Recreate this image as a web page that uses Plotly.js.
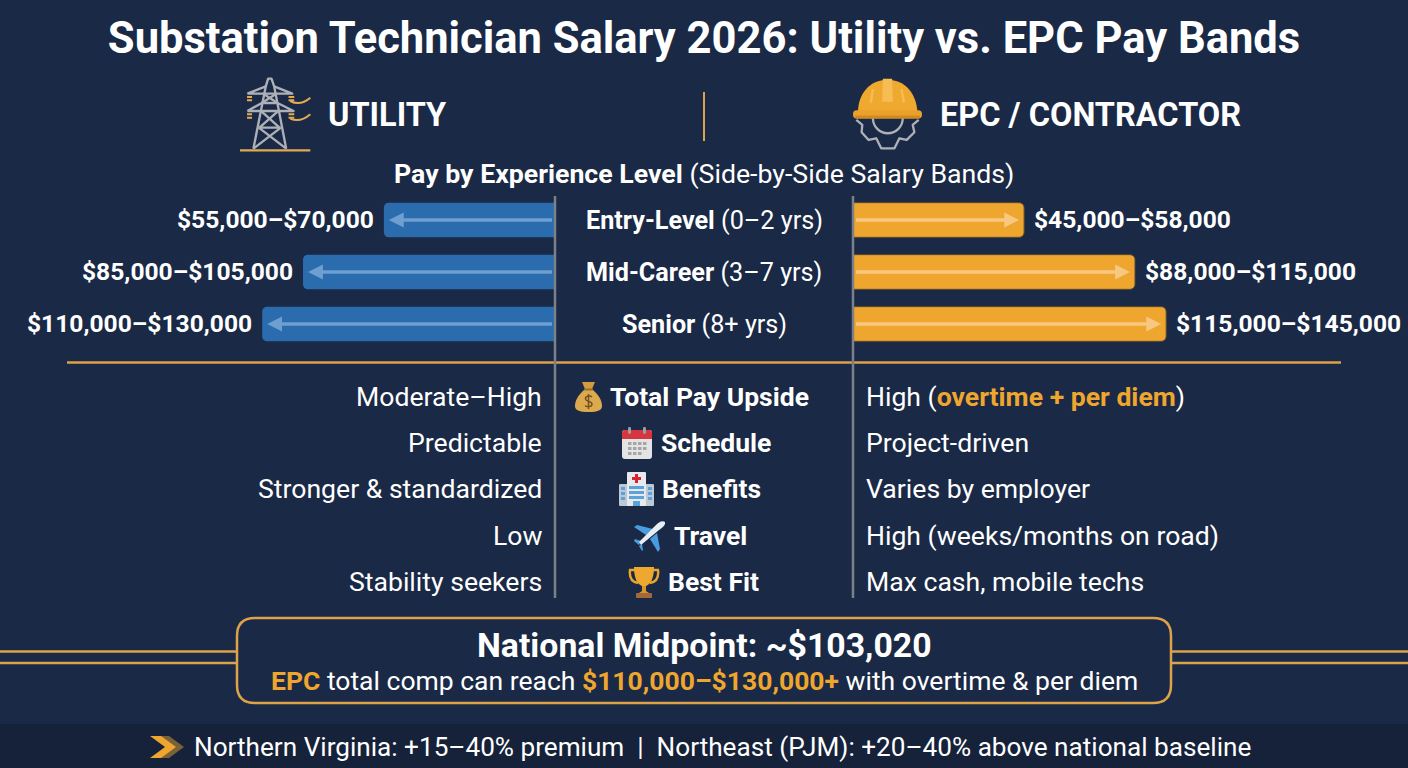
<!DOCTYPE html>
<html>
<head>
<meta charset="utf-8">
<title>Substation Technician Salary 2026</title>
<script src="https://cdn.plot.ly/plotly-3.0.1.min.js"></script>
<style>
  html, body { margin: 0; padding: 0; background: #1a2945; }
  #myPlot { width: 1408px; height: 768px; }
</style>
</head>
<body>
<div id="myPlot"></div>
<script>
// Chart values
var levels = ["Entry-Level", "Mid-Career", "Senior"];
var levelNotes = ["(0–2 yrs)", "(3–7 yrs)", "(8+ yrs)"];

// Drawn bar lengths in $k. The source bars are not to scale with their labels,
// so these follow what is drawn, not the printed upper bound.
var utilityBars = [71.3, 105, 122];
var epcBars = [71.3, 117.5, 130.5];

var utilityLabels = ["$55,000–$70,000", "$85,000–$105,000", "$110,000–$130,000"];
var epcLabels = ["$45,000–$58,000", "$88,000–$115,000", "$115,000–$145,000"];

var topics = ["Total Pay Upside", "Schedule", "Benefits", "Travel", "Best Fit"];
var utilityRows = ["Moderate–High", "Predictable", "Stronger &amp; standardized", "Low", "Stability seekers"];
var epcRows = [
    "High (<b style='color:#eea62f'>overtime + per diem</b>)",
    "Project-driven",
    "Varies by employer",
    "High (weeks/months on road)",
    "Max cash, mobile techs"
];

var W = 1408, H = 768;
var NAVY = "#1a2945", STRIP = "#15223a", GOLD = "#eea62f", LINE = "#dda24a", GRAY = "#7b8189";
var BLUE = "#2a6cad", FONT = "Roboto, sans-serif";

function px(x) { return x / W; }
function py(y) { return 1 - y / H; }

function note(x, y, text, size, anchor) {
    /* Text annotation placed by pixel position on the page */
    return {
        xref: "paper", yref: "paper", x: px(x), y: py(y),
        text: text, showarrow: false, xanchor: anchor || "center", yanchor: "middle",
        font: { family: FONT, size: size, color: "#ffffff" }
    };
}

function line(x0, y0, x1, y1, color, width) {
    return {
        type: "line", xref: "paper", yref: "paper",
        x0: px(x0), y0: py(y0), x1: px(x1), y1: py(y1),
        line: { color: color, width: width }
    };
}

function roundedBox(x0, y0, x1, y1, r) {
    /* Rounded rectangle as a shape path in paper coordinates */
    var X = function (v) { return px(v).toFixed(5); };
    var Y = function (v) { return py(v).toFixed(5); };
    return "M" + X(x0 + r) + "," + Y(y0) + " L" + X(x1 - r) + "," + Y(y0) +
        " Q" + X(x1) + "," + Y(y0) + " " + X(x1) + "," + Y(y0 + r) +
        " L" + X(x1) + "," + Y(y1 - r) +
        " Q" + X(x1) + "," + Y(y1) + " " + X(x1 - r) + "," + Y(y1) +
        " L" + X(x0 + r) + "," + Y(y1) +
        " Q" + X(x0) + "," + Y(y1) + " " + X(x0) + "," + Y(y1 - r) +
        " L" + X(x0) + "," + Y(y0 + r) +
        " Q" + X(x0) + "," + Y(y0) + " " + X(x0 + r) + "," + Y(y0) + " Z";
}

function icon(x0, y0, x1, y1, viewBox, body) {
    /* Inline svg picture stretched over a pixel box */
    var svg = "<svg xmlns='http://www.w3.org/2000/svg' viewBox='" + viewBox + "' preserveAspectRatio='none'>" + body + "</svg>";
    return {
        source: "data:image/svg+xml;utf8," + encodeURIComponent(svg),
        xref: "paper", yref: "paper", x: px(x0), y: py(y0),
        sizex: px(x1 - x0), sizey: (y1 - y0) / H,
        xanchor: "left", yanchor: "top", sizing: "stretch", layer: "above"
    };
}

var pylon =
    "<g fill='none' stroke='#adb1b7' stroke-width='7' stroke-linejoin='round'>" +
    "<path d='M197,48 L204,25 L214,25 L222,48 M197,48 L160,235 M222,48 L258,235'/>" +
    "<path d='M142,70 L276,70 L222,48 M142,70 L197,48 M142,122 L280,122 L232,98 L185,98 L142,122'/>" +
    "<path d='M192,72 L232,98 M226,72 L185,98'/>" +
    "<path d='M185,124 L238,172 M232,124 L178,172 M176,172 L242,172 M176,172 L258,235 M242,172 L160,235'/>" +
    "</g><g fill='none' stroke='#e3aa52' stroke-width='6'>" +
    "<path d='M120,240 L330,240' stroke-width='7'/>" +
    "<path d='M141,80 L156,80 M141,90 L156,90 M141,132 L156,132 M141,142 L156,142'/>" +
    "<path d='M265,80 L282,80 M265,90 L282,90 M265,132 L282,132 M265,142 L282,142'/>" +
    "<path d='M270,92 Q300,108 330,82 M270,145 Q300,158 330,132'/></g>";

var hardHat =
    "<g fill='none' stroke='#adb1b7' stroke-width='7' stroke-linejoin='round'>" +
    "<path d='M110,150 L128,165 L126,187 L147,210 L170,205 L185,235 L225,235 L240,205 L262,210 L285,187 L280,165 L298,150'/>" +
    "<path d='M160,145 A45,45 0 0 0 250,145'/></g>" +
    "<path d='M115,128 C115,72 150,30 204,30 C258,30 292,72 294,128 Z' fill='#f0a92f'/>" +
    "<path d='M190,27 L218,27 L220,96 L188,96 Z' fill='#f6bd55'/>" +
    "<path d='M160,58 L154,98 M246,58 L254,98' stroke='#f6bd55' stroke-width='7' fill='none'/>" +
    "<rect x='100' y='121' width='208' height='25' rx='11' fill='#eaa02a'/>" +
    "<rect x='106' y='137' width='196' height='9' rx='4' fill='#cf8a20'/>";

var moneyBag =
    "<path d='M9,9 C3,14 0,20 0,25 C0,29 4,31 13.5,31 C23,31 27,29 27,25 C27,20 24,14 18,9 Z' fill='#dda94f'/>" +
    "<path d='M7,1 L20,1 L17,8 L10,8 Z' fill='#d39c40'/>" +
    "<rect x='9' y='7.5' width='9' height='2' fill='#96702d'/>" +
    "<path d='M17,16 C15,14 10,15 10.5,18 C11,21 17,20 17,23 C17,26 12,26.5 10,24.5 M13.5,13 L13.5,28' fill='none' stroke='#6f5220' stroke-width='1.5'/>";

var calendar =
    "<rect x='0' y='3' width='30' height='29' rx='3' fill='#e4e4e4'/>" +
    "<path d='M0,12 L0,6 Q0,3 3,3 L27,3 Q30,3 30,6 L30,12 Z' fill='#d8363f'/>" +
    "<rect x='6' y='0' width='3' height='7' rx='1.4' fill='#9aa0a8'/><rect x='21' y='0' width='3' height='7' rx='1.4' fill='#9aa0a8'/>" +
    "<g fill='#a6a6a6'><rect x='6' y='15' width='3.5' height='3'/><rect x='11' y='15' width='3.5' height='3'/><rect x='16' y='15' width='3.5' height='3'/><rect x='21' y='15' width='3.5' height='3'/>" +
    "<rect x='6' y='20' width='3.5' height='3'/><rect x='11' y='20' width='3.5' height='3'/><rect x='16' y='20' width='3.5' height='3'/><rect x='21' y='20' width='3.5' height='3'/>" +
    "<rect x='6' y='25' width='3.5' height='3'/><rect x='11' y='25' width='3.5' height='3'/><rect x='16' y='25' width='3.5' height='3'/></g>";

var hospital =
    "<rect x='0' y='12' width='35' height='22' rx='1' fill='#bcc8d4'/>" +
    "<rect x='8' y='0' width='19' height='34' rx='1' fill='#e6eaee'/>" +
    "<path d='M16,2 L19,2 L19,5 L22,5 L22,8 L19,8 L19,11 L16,11 L16,8 L13,8 L13,5 L16,5 Z' fill='#d8232f'/>" +
    "<g fill='#5ba2d9'><rect x='10' y='14' width='15' height='3'/><rect x='10' y='19' width='15' height='3'/><rect x='10' y='24' width='15' height='3'/>" +
    "<rect x='2' y='15' width='4' height='3'/><rect x='2' y='20' width='4' height='3'/><rect x='2' y='25' width='4' height='3'/>" +
    "<rect x='29' y='15' width='4' height='3'/><rect x='29' y='20' width='4' height='3'/><rect x='29' y='25' width='4' height='3'/>" +
    "<rect x='14' y='29' width='7' height='5'/></g>";

var plane =
    "<path d='M19,8 L3,4 L0,6 L12,14 Z' fill='#4a9ce0'/>" +
    "<path d='M23,12 L26,28 L24,31 L16,18 Z' fill='#4a9ce0'/>" +
    "<path d='M7,20 L1,18 L0,20 L5,24 Z M8,23 L9,29 L8,30 L5,25 Z' fill='#4a9ce0'/>" +
    "<path d='M31,1 C28,-1 24,2 22,4 L5,21 L7,24 L25,9 C28,7 32,4 31,1 Z' fill='#e6edf3'/>";

var trophy =
    "<path d='M7,4 L2,4 C1,12 4,16 10,17 M25,4 L30,4 C31,12 28,16 22,17' fill='none' stroke='#e8a52e' stroke-width='2.4'/>" +
    "<path d='M6,1 L26,1 C26,12 23,18 18,20 L14,20 C9,18 6,12 6,1 Z' fill='#eda92f'/>" +
    "<path d='M14,20 L18,20 L18,25 L21,27 L11,27 L14,25 Z' fill='#d9962a'/>" +
    "<rect x='8' y='27' width='16' height='5' rx='1' fill='#a5683a'/>";

var chevrons =
    "<path d='M9,0 L19,0 L34,11 L19,22 L9,22 L24,11 Z' fill='#7a6238'/>" +
    "<path d='M0,0 L11,0 L26,11 L11,22 L0,22 L15,11 Z' fill='#eea62f'/>";

// Bars, one subplot per side, both start at the centre column
var trace1 = {
    x: utilityBars, y: levels, type: "bar", orientation: "h",
    xaxis: "x", yaxis: "y", hoverinfo: "skip",
    marker: { color: BLUE, cornerradius: 5 }
};
var trace2 = {
    x: epcBars, y: levels, type: "bar", orientation: "h",
    xaxis: "x2", yaxis: "y", hoverinfo: "skip",
    marker: { color: GOLD, cornerradius: 5, line: { color: "#5b4a2c", width: 1 } }
};

var annotations = [
    note(325.5, 115, "<b>UTILITY</b>", 32.5, "left"),
    note(937.5, 115, "<b>EPC / CONTRACTOR</b>", 32.5, "left"),
    note(704, 174, "<b>Pay by Experience Level</b> (Side-by-Side Salary Bands)", 26.7),
    note(704, 645, "<b>National Midpoint: ~$103,020</b>", 33.8),
    note(704, 680, "<b style='color:#eea62f'>EPC</b> total comp can reach <b style='color:#eea62f'>$110,000–$130,000+</b> with overtime &amp; per diem", 26.5),
    note(192, 747, "Northern Virginia: +15–40% premium&nbsp; |&nbsp; Northeast (PJM): +20–40% above national baseline", 26.15, "left")
];

var topicX = [608, 658.5, 659.5, 671.5, 666];
var rowY = [396, 442, 488, 535, 581];

levels.forEach(function (level, i) {
    annotations.push({
        xref: "paper", yref: "y", x: px(704), y: level, showarrow: false, yanchor: "middle",
        text: "<b>" + level + "</b> " + levelNotes[i],
        font: { family: FONT, size: 25.2, color: "#ffffff" }
    });
    annotations.push({
        xref: "x", yref: "y", x: utilityBars[i], y: level, showarrow: false,
        xanchor: "right", yanchor: "middle", xshift: -8, yshift: 1,
        text: "<b>" + utilityLabels[i] + "</b>",
        font: { family: FONT, size: 24.6, color: "#ffffff" }
    });
    annotations.push({
        xref: "x2", yref: "y", x: epcBars[i], y: level, showarrow: false,
        xanchor: "left", yanchor: "middle", xshift: 7.5, yshift: 1,
        text: "<b>" + epcLabels[i] + "</b>",
        font: { family: FONT, size: 24.6, color: "#ffffff" }
    });
    // Arrows inside the bars
    annotations.push({
        xref: "x", yref: "y", x: utilityBars[i], y: level,
        axref: "x", ayref: "y", ax: 0, ay: level,
        showarrow: true, arrowhead: 2, arrowsize: 0.85, arrowwidth: 3.5, standoff: 5,
        arrowcolor: "#6f9fd0", text: " "
    });
    annotations.push({
        xref: "x2", yref: "y", x: epcBars[i], y: level,
        axref: "x2", ayref: "y", ax: 0, ay: level,
        showarrow: true, arrowhead: 2, arrowsize: 0.85, arrowwidth: 3.5, standoff: 5,
        arrowcolor: "#f8c780", text: " "
    });
});

topics.forEach(function (topic, i) {
    annotations.push(note(543.5, rowY[i], utilityRows[i], 26.6, "right"));
    annotations.push(note(topicX[i], rowY[i], "<b>" + topic + "</b>", 26.5, "left"));
    annotations.push(note(864, rowY[i], epcRows[i], 26.6, "left"));
});

var shapes = [
    { type: "rect", layer: "below", xref: "paper", yref: "paper", x0: 0, x1: 1, y0: 0, y1: py(724), fillcolor: STRIP, line: { width: 0 } },
    line(704, 92, 704, 141, LINE, 2),
    line(67, 362.5, 1341, 362.5, LINE, 2.5),
    line(555, 196, 555, 598, GRAY, 2.5),
    line(853, 196, 853, 598, GRAY, 2.5),
    line(0, 651.5, 237, 651.5, LINE, 2.5),
    line(0, 663, 237, 663, LINE, 2.5),
    line(1171, 651.5, 1408, 651.5, LINE, 2.5),
    line(1171, 663, 1408, 663, LINE, 2.5),
    {
        type: "path", xref: "paper", yref: "paper", path: roundedBox(237, 618, 1171, 703, 18),
        fillcolor: NAVY, line: { color: LINE, width: 2.5 }
    }
];

var images = [
    icon(240, 77, 311, 152, "120 20 212 225", pylon),
    icon(853, 78, 922, 150, "100 25 208 215", hardHat),
    icon(575, 381, 602, 412, "0 0 27 31", moneyBag),
    icon(622, 427, 652, 459, "0 0 30 32", calendar),
    icon(619, 472, 654, 506, "0 0 35 34", hospital),
    icon(634, 521, 665, 552, "0 0 31 31", plane),
    icon(628, 566, 660, 598, "0 0 32 32", trophy),
    icon(150, 736, 184, 758, "0 0 34 22", chevrons)
];

var hiddenAxis = { showgrid: false, zeroline: false, showticklabels: false, ticks: "", showline: false, fixedrange: true };

var layout = {
    width: W, height: H,
    margin: { l: 0, r: 0, t: 0, b: 0 },
    paper_bgcolor: NAVY,
    plot_bgcolor: "rgba(0,0,0,0)",
    showlegend: false,
    barmode: "overlay",
    bargap: 0.333,
    font: { family: FONT, color: "#ffffff" },
    title: {
        text: "<b>Substation Technician Salary 2026: Utility vs. EPC Pay Bands</b>",
        font: { family: FONT, size: 43.5, color: "#ffffff" },
        x: 0.5, xanchor: "center", y: py(38), yanchor: "middle"
    },
    // 555px column at 2.4 px per $k on both sides
    xaxis: Object.assign({}, hiddenAxis, { domain: [0, px(555)], range: [231.25, 0], anchor: "y" }),
    xaxis2: Object.assign({}, hiddenAxis, { domain: [px(853), 1], range: [0, 231.25], anchor: "y" }),
    yaxis: Object.assign({}, hiddenAxis, {
        domain: [py(350), py(194)], type: "category",
        categoryorder: "array", categoryarray: levels, range: [2.5, -0.5]
    }),
    annotations: annotations,
    shapes: shapes,
    images: images
};

Plotly.newPlot("myPlot", [trace1, trace2], layout, { displayModeBar: false, responsive: false });
</script>
</body>
</html>
